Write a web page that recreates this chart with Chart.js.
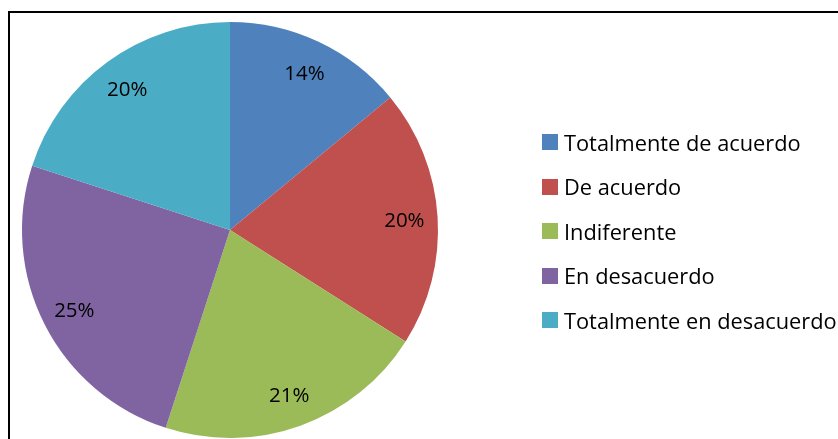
<!DOCTYPE html>
<html>
<head>
<meta charset="utf-8">
<script src="https://cdn.jsdelivr.net/npm/chart.js@4.4.1/dist/chart.umd.min.js"></script>
<style>
  html, body { margin: 0; padding: 0; background: #fff; overflow: hidden; }
  #wrap { position: relative; width: 838px; height: 439px; overflow: hidden; }
  #frame { position: absolute; left: 8px; top: 11px; width: 900px; height: 500px; border: 2px solid #000; box-sizing: border-box; }
  #c { position: absolute; left: 0; top: 0; }
  #legend { position: absolute; left: 542px; top: 131px; font-family: "Open Sans", sans-serif; font-size: 21.8px; color: #000; }
  .item { display: flex; align-items: center; height: 22px; margin-bottom: 22.5px; white-space: nowrap; }
  .box { width: 16px; height: 16px; margin-right: 6px; }
</style>
</head>
<body>
<div id="wrap">
  <div id="frame"></div>
  <canvas id="c" width="838" height="439"></canvas>
  <div id="legend"></div>
</div>
<script>
const labels = ['Totalmente de acuerdo', 'De acuerdo', 'Indiferente', 'En desacuerdo', 'Totalmente en desacuerdo'];
const values = [14, 20, 21, 25, 20];
const colors = ['#4F81BD', '#C0504D', '#9BBB59', '#8064A2', '#4BACC6'];

// percent labels inside the slices
const pctLabels = {
  id: 'pctLabels',
  afterDatasetsDraw(chart) {
    const ctx = chart.ctx;
    const meta = chart.getDatasetMeta(0);
    const total = values.reduce((a, b) => a + b, 0);
    ctx.save();
    ctx.font = '20.5px "Open Sans", sans-serif';
    ctx.fillStyle = '#000';
    ctx.textAlign = 'center';
    ctx.textBaseline = 'middle';
    meta.data.forEach((arc, i) => {
      const p = arc.getProps(['x', 'y', 'startAngle', 'endAngle', 'outerRadius'], true);
      const mid = (p.startAngle + p.endAngle) / 2;
      const r = p.outerRadius * 0.84;
      ctx.fillText(Math.round(values[i] / total * 100) + '%', p.x + Math.cos(mid) * r, p.y + Math.sin(mid) * r + 2);
    });
    ctx.restore();
  }
};

new Chart(document.getElementById('c').getContext('2d'), {
  type: 'pie',
  data: {
    labels: labels,
    datasets: [{ data: values, backgroundColor: colors, borderWidth: 0 }]
  },
  options: {
    responsive: false,
    animation: false,
    layout: { padding: { left: 20, right: 398, top: 22, bottom: 1 } },
    plugins: { legend: { display: false }, tooltip: { enabled: false } }
  },
  plugins: [pctLabels]
});

document.getElementById('legend').innerHTML = labels.map((l, i) =>
  `<div class="item"><div class="box" style="background:${colors[i]}"></div><span>${l}</span></div>`
).join('');
</script>
</body>
</html>
